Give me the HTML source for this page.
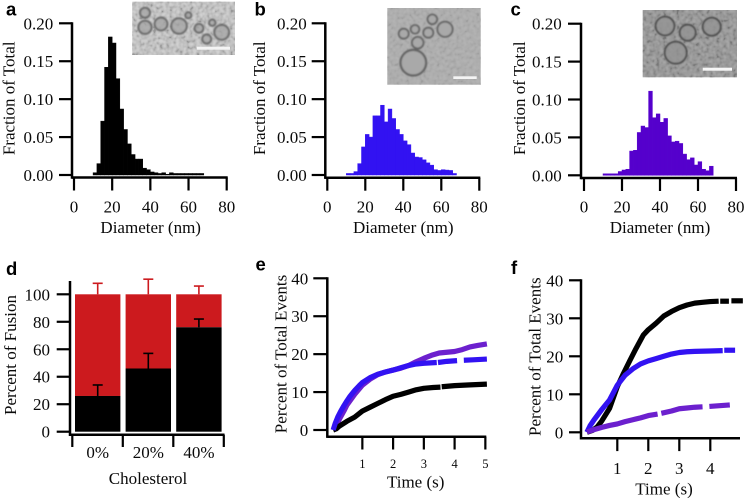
<!DOCTYPE html>
<html lang="en">
<head>
<meta charset="utf-8">
<title>Vesicle size distributions and fusion kinetics</title>
<style>
html,body{margin:0;padding:0;background:#fff;}
#figure{display:block;width:745px;height:500px;filter:blur(0.3px);}
text{font-family:"Liberation Serif",serif;fill:#0a0a0a;}
.letter{font-family:"Liberation Sans",sans-serif;font-weight:bold;font-size:18.5px;fill:#000;}
</style>
</head>
<body>
<svg id="figure" xmlns="http://www.w3.org/2000/svg" width="745" height="500" viewBox="0 0 745 500">
<defs>
<filter id="noise-light" x="0" y="0" width="100%" height="100%">
<feTurbulence type="fractalNoise" baseFrequency="0.3" numOctaves="2" seed="4"/>
<feGaussianBlur stdDeviation="0.5"/>
<feColorMatrix type="matrix" values="2.4 0 0 0 -0.7  2.4 0 0 0 -0.7  2.4 0 0 0 -0.7  0 0 0 0 1"/>
</filter>
<filter id="soft"><feGaussianBlur stdDeviation="0.8"/></filter>
</defs>

<g>
<rect x="132.3" y="1.7" width="102.7" height="53.3" fill="#c3c3c3"/>
<rect x="132.3" y="1.7" width="102.7" height="53.3" filter="url(#noise-light)" opacity="0.22"/>
<g filter="url(#soft)" fill="#a4a4a4" fill-opacity="0.75" stroke="#6c6c6c" stroke-width="2">
<circle cx="145" cy="12.7" r="5"/><circle cx="145" cy="27.3" r="6.6"/><circle cx="161" cy="24" r="6.4"/><circle cx="179" cy="26" r="7.8"/><circle cx="188.3" cy="15.3" r="3"/><circle cx="199" cy="28.3" r="4.4"/><circle cx="212.3" cy="22.7" r="3.2"/><circle cx="221.7" cy="32.3" r="7.4"/><circle cx="206.7" cy="39" r="4.5"/>
</g>
<rect x="196.7" y="46.7" width="33.3" height="3" fill="#f4f4f4"/>
</g>

<g>
<rect x="387.3" y="8" width="93.4" height="76.7" fill="#adadad"/>
<rect x="387.3" y="8" width="93.4" height="76.7" filter="url(#noise-light)" opacity="0.08"/>
<g filter="url(#soft)" fill="#a9a9a9" stroke="#626262" stroke-width="1.8">
<circle cx="432.3" cy="19.3" r="4.8"/><circle cx="445" cy="29.3" r="7.6"/><circle cx="428.3" cy="32.7" r="5"/><circle cx="415" cy="29.3" r="4.3"/><circle cx="403.7" cy="33.7" r="5"/><circle cx="417.7" cy="42.7" r="5.8"/><circle cx="413.3" cy="62.7" r="12.8" stroke-width="2.2"/>
</g>
<rect x="453.3" y="76.3" width="23.4" height="2.7" fill="#f4f4f4"/>
</g>

<g>
<rect x="642.7" y="10" width="94.3" height="67.3" fill="#929292"/>
<rect x="642.7" y="10" width="94.3" height="67.3" filter="url(#noise-light)" opacity="0.18"/>
<g filter="url(#soft)" fill="#939393" fill-opacity="0.8" stroke="#484848" stroke-width="1.8">
<circle cx="665" cy="26" r="9.4"/><circle cx="687.7" cy="32.7" r="8"/><circle cx="711.7" cy="26.7" r="9"/><circle cx="675.7" cy="52.7" r="11"/>
</g>
<rect x="702.7" y="67.7" width="29.3" height="3" fill="#f6f6f6"/>
</g>
</svg>

<script>
// Histogram data (fraction of total per 2 nm bin)
const histBinStarts = [10,12,14,16,18,20,22,24,26,28,30,32,34,36,38,40,42,44,46,48,50,52,54,56,58,60,62,64,66];
const histValuesA = [.003,.015,.071,.142,.182,.174,.127,.087,.060,.041,.027,.021,.021,.009,.007,.004,.003,.002,.003,.001,.003,.002,.002,.002,.002,.002,.002,.002,.002];
const histValuesB = [.002,.002,.0045,.015,.037,.0535,.05,.078,.078,.092,.07,.087,.0745,.06,.0535,.045,.04,.029,.0237,.023,.02,.016,.013,.007,.006,.007,.0065,.006,.002];
const histValuesC = [.002,.002,.002,.002,.005,.007,.008,.032,.033,.0565,.065,.063,.111,.076,.081,.07,.075,.052,.044,.045,.042,.028,.0206,.023,.0136,.018,.008,.006,.012];
const histXTicks = [0,20,40,60,80];
const histYTicks = [0,0.05,0.10,0.15,0.20];
const histYLabels = ["0.00","0.05","0.10","0.15","0.20"];

// Stacked bars
const barCategories = ["0%","20%","40%"];
const barBlack = [26,46,76];
const barBlackErrorTop = [34,57,82];
const barRedErrorTop = [108,111,106];
const barYTicks = [0,20,40,60,80,100];

// Kinetic traces, panel e (null marks a gap in the trace)
const eYTicks = [0,10,20,30,40];
const eXTicks = [1,2,3,4,5];
const ePurpleTime = [0.05,0.15,0.25,0.4,0.5,0.75,1,1.25,1.5,1.75,2,2.25,2.5,2.75,3,3.25,3.5,3.75,4,4.25,4.5,4.75,5.05];
const ePurpleValue = [0,1,2.8,5,6.6,9.4,11.8,13.4,14.6,15.3,15.8,16.3,17,18,18.9,19.7,20.3,20.5,20.7,21.2,21.9,22.3,22.7];
const eBlackTime = [0.05,0.15,0.25,0.5,0.75,1,1.25,1.5,1.75,2,2.25,2.5,2.75,3,3.3,3.54,3.55,3.58,4,4.5,5.05];
const eBlackValue = [0,0.3,1,2.3,3.4,5,6,7,8,8.9,9.4,10,10.6,11,11.2,11.3,null,11.4,11.7,11.9,12.1];
const eBlueTime = [0.05,0.12,0.2,0.3,0.4,0.5,0.6,0.75,0.9,1,1.25,1.5,1.75,2,2.25,2.5,2.75,3,3.42,3.43,3.46,3.75,4.08,4.09,4.3,4.6,5.05];
const eBlueValue = [0,1.8,3.4,5,6.4,7.7,8.9,10.4,11.7,12.5,13.8,14.7,15.3,15.8,16.4,17,17.4,17.6,17.8,null,17.8,18.1,18.3,null,18.4,18.5,18.7];

// Kinetic traces, panel f
const fYTicks = [0,10,20,30,40];
const fXTicks = [1,2,3,4];
const fBlackTime = [0.02,0.2,0.35,0.5,0.75,1,1.2,1.4,1.6,1.84,2,2.25,2.5,2.75,3,3.25,3.5,3.75,4,4.27,4.28,4.32,4.6,4.61,4.68,5.05];
const fBlackValue = [0,0.5,1.4,3,6.3,12,15.5,18.8,22,25.6,27,28.7,30.6,31.8,32.8,33.5,34,34.2,34.4,34.5,null,34.5,34.5,null,34.6,34.6];
const fBlueTime = [0.02,0.12,0.25,0.5,0.75,1,1.25,1.5,1.75,2,2.25,2.5,2.75,3,3.25,3.5,4,4.4,4.41,4.45,4.8];
const fBlueValue = [0,1.7,3.3,6,8.5,12.4,15,16.7,18,18.8,19.4,20,20.6,21,21.2,21.3,21.4,21.5,null,21.6,21.6];
const fPurpleTime = [0.02,0.25,0.5,0.75,1,1.25,1.5,1.75,2,2.3,2.38,2.42,2.75,3,3.25,3.5,3.75,3.76,3.97,4.3,4.63];
const fPurpleValue = [0.1,0.7,1.3,1.8,2.2,2.8,3.3,3.8,4.4,4.8,null,5,5.6,6.2,6.4,6.6,6.7,null,6.8,7,7.2];

const SVG_NS = "http://www.w3.org/2000/svg";
const svg = document.getElementById("figure");
const BLACK = "#000";
const BLUE = "#3212f2";
const VIOLET = "#5500cc";
const TRACE_VIOLET = "#6c20ce";
const RED = "#cc1a1e";

function make(parent, tag) {
  const el = document.createElementNS(SVG_NS, tag);
  parent.appendChild(el);
  return el;
}
function line(parent, x1, y1, x2, y2, width, color) {
  const el = make(parent, "line");
  el.setAttribute("x1", x1);
  el.setAttribute("y1", y1);
  el.setAttribute("x2", x2);
  el.setAttribute("y2", y2);
  el.setAttribute("stroke", color || "#000");
  el.setAttribute("stroke-width", width);
  return el;
}
function label(parent, x, y, str, anchor, size) {
  const el = make(parent, "text");
  el.setAttribute("x", x);
  el.setAttribute("y", y);
  el.setAttribute("text-anchor", anchor || "middle");
  el.setAttribute("font-size", size || 17);
  el.textContent = str;
  return el;
}
function yTitle(parent, x, y, str) {
  const el = make(parent, "text");
  el.setAttribute("transform", "translate(" + x + " " + y + ") rotate(-90)");
  el.setAttribute("text-anchor", "middle");
  el.setAttribute("font-size", 17);
  el.textContent = str;
  
  
  return el;
}
function panelLetter(str, x, y) {
  const el = make(svg, "text");
  el.setAttribute("class", "letter");
  el.setAttribute("x", x);
  el.setAttribute("y", y);
  el.textContent = str;
  
  
}

function drawHistogram(id, values, color, g, letter) {
  const group = make(svg, "g");
  
  
  const sx = v => g.x0 + (g.x80 - g.x0) * v / 80;
  const sy = v => g.y0 - (g.y0 - g.y20) * v / 0.2;
  const binWidth = sx(2) - sx(0);
  values.forEach((v, i) => {
    const bar = make(group, "rect");
    bar.setAttribute("x", sx(histBinStarts[i]));
    bar.setAttribute("y", sy(v));
    bar.setAttribute("width", binWidth);
    bar.setAttribute("height", sy(0) - sy(v));
    bar.setAttribute("fill", color);
    bar.setAttribute("stroke", color);
    bar.setAttribute("stroke-width", 0.5);
    
    
  });
  const yAxis = line(group, g.axisX, g.y20 - 1, g.axisX, g.axisY + 1.2, 2.5);
  
  
  const xAxis = line(group, g.axisX, g.axisY, sx(80) + 1, g.axisY, 2.5);
  
  
  histYTicks.forEach((t, i) => {
    const tick = line(group, g.tickLeft, sy(t), g.axisX, sy(t), 2.2);
    
    
    const text = label(group, g.labelRight, sy(t) + 6, histYLabels[i], "end");
    
    
  });
  histXTicks.forEach(t => {
    const tick = line(group, sx(t), g.axisY, sx(t), g.axisY + 13, 2.2);
    
    
    const text = label(group, sx(t), 212.5, String(t));
    
    
  });
  const title = label(group, g.titleX, 233, "Diameter (nm)");
  
  
  yTitle(group, g.yTitleX, 98.3, "Fraction of Total");
  panelLetter(letter, g.letterX, 15.5);
}

drawHistogram("a", histValuesA, BLACK, {x0:74,x80:226.7,y0:175,y20:23.3,axisX:72,axisY:177.5,tickLeft:59,labelRight:53.3,titleX:150.7,yTitleX:14.5,letterX:6}, "a");
drawHistogram("b", histValuesB, BLUE, {x0:327.3,x80:479.3,y0:175,y20:23.3,axisX:325.3,axisY:177.7,tickLeft:311.7,labelRight:306.7,titleX:403.3,yTitleX:265,letterX:254.5}, "b");
drawHistogram("c", histValuesC, VIOLET, {x0:584,x80:736,y0:175.3,y20:23.7,axisX:581,axisY:178,tickLeft:568,labelRight:561.7,titleX:660,yTitleX:525,letterX:510.5}, "c");

// Panel d
(function () {
  const group = make(svg, "g");
  
  
  const sy = v => 431.7 - 137.4 * v / 100;
  const barLeft = i => 75 + 50.6 * i;
  const barW = 45.4;
  const cx = i => barLeft(i) + barW / 2;
  barCategories.forEach((cat, i) => {
    const red = make(group, "rect");
    red.setAttribute("x", barLeft(i));
    red.setAttribute("y", sy(100));
    red.setAttribute("width", barW);
    red.setAttribute("height", sy(barBlack[i]) - sy(100));
    red.setAttribute("fill", RED);
    
    
    const blk = make(group, "rect");
    blk.setAttribute("x", barLeft(i));
    blk.setAttribute("y", sy(barBlack[i]));
    blk.setAttribute("width", barW);
    blk.setAttribute("height", sy(0) - sy(barBlack[i]));
    blk.setAttribute("fill", BLACK);
    
    
    const e1 = line(group, cx(i), sy(100), cx(i), sy(barRedErrorTop[i]), 1.6, RED);
    
    
    const c1 = line(group, cx(i) - 5, sy(barRedErrorTop[i]), cx(i) + 5, sy(barRedErrorTop[i]), 1.6, RED);
    
    
    const e2 = line(group, cx(i), sy(barBlack[i]), cx(i), sy(barBlackErrorTop[i]), 1.6, BLACK);
    
    
    const c2 = line(group, cx(i) - 5, sy(barBlackErrorTop[i]), cx(i) + 5, sy(barBlackErrorTop[i]), 1.6, BLACK);
    
    
    const text = label(group, cx(i), 458, cat);
    
    
  });
  const yAxis = line(group, 70, 281, 70, 436, 2.5);
  
  
  const xAxis = line(group, 70, 434.7, 224.5, 434.7, 2.5);
  
  
  barYTicks.forEach(t => {
    const tick = line(group, 56.7, sy(t), 70, sy(t), 2.2);
    
    
    const text = label(group, 50, sy(t) + 6, String(t), "end");
    
    
  });
  for (let i = 0; i <= barCategories.length; i++) {
    const x = 72.3 + 50.5 * i;
    const tick = line(group, x, 434.7, x, 447, 2.2);
    
    
  }
  const title = label(group, 148, 484, "Cholesterol");
  
  
  yTitle(group, 16, 355, "Percent of Fusion");
  panelLetter("d", 6, 275);
})();

function drawTrace(group, sx, sy, times, values, color, name) {
  let segment = [];
  const flush = () => {
    if (segment.length > 1) {
      const p = make(group, "polyline");
      p.setAttribute("points", segment.join(" "));
      p.setAttribute("fill", "none");
      p.setAttribute("stroke", color);
      p.setAttribute("stroke-width", 5.2);
      p.setAttribute("stroke-linejoin", "round");
      
      
    }
    segment = [];
  };
  times.forEach((t, i) => {
    if (values[i] === null) { flush(); return; }
    segment.push(sx(t) + "," + sy(values[i]));
  });
  flush();
}

function drawKinetics(id, g, xTicks, yTicks, traces, letter) {
  const group = make(svg, "g");
  
  
  const sx = t => g.t0 + g.perSec * t;
  const sy = v => g.y0 - (g.y0 - g.y40) * v / 40;
  traces.forEach(tr => drawTrace(group, sx, sy, tr[0], tr[1], tr[2], tr[3]));
  const yAxis = line(group, g.axisX, g.y40 - 1, g.axisX, g.axisY + 1.2, 2.5);
  
  
  const xAxis = line(group, g.axisX, g.axisY, g.xEnd, g.axisY, 2.5);
  
  
  yTicks.forEach(t => {
    const tick = line(group, g.tickLeft, sy(t), g.axisX, sy(t), 2.2);
    
    
    const text = label(group, g.labelRight, sy(t) + 6, String(t), "end", 17);
    
    
  });
  xTicks.forEach(t => {
    const tick = line(group, sx(t), g.axisY, sx(t), g.axisY + 12.8, 2.2);
    
    
    const text = label(group, sx(t), g.tickBase, String(t), "middle", g.tickSize);
    
    
  });
  const title = label(group, g.titleX, g.titleY, "Time (s)");
  
  
  yTitle(group, g.yTitleX, g.yTitleY, "Percent of Total Events");
  panelLetter(letter, g.letterX, g.letterY);
}

drawKinetics("e",
  {t0:331.6,perSec:30.75,y0:430,y40:278.3,axisX:327.3,axisY:436.7,xEnd:486.3,tickLeft:313.3,labelRight:308.3,tickBase:468,tickSize:12.5,titleX:415.7,titleY:487.7,yTitleX:286.7,yTitleY:354,letterX:255.5,letterY:270.7},
  eXTicks, eYTicks,
  [[ePurpleTime,ePurpleValue,TRACE_VIOLET,"purple-trace"],[eBlackTime,eBlackValue,BLACK,"black-trace"],[eBlueTime,eBlueValue,BLUE,"blue-trace"]],
  "e");

drawKinetics("f",
  {t0:586.3,perSec:31,y0:432.3,y40:280.3,axisX:581,axisY:438.3,xEnd:740,tickLeft:569,labelRight:563.3,tickBase:474,tickSize:17,titleX:664,titleY:494.3,yTitleX:540.7,yTitleY:356.7,letterX:511,letterY:274},
  fXTicks, fYTicks,
  [[fBlackTime,fBlackValue,BLACK,"black-trace"],[fBlueTime,fBlueValue,BLUE,"blue-trace"],[fPurpleTime,fPurpleValue,TRACE_VIOLET,"purple-trace"]],
  "f");
</script>
</body>
</html>
